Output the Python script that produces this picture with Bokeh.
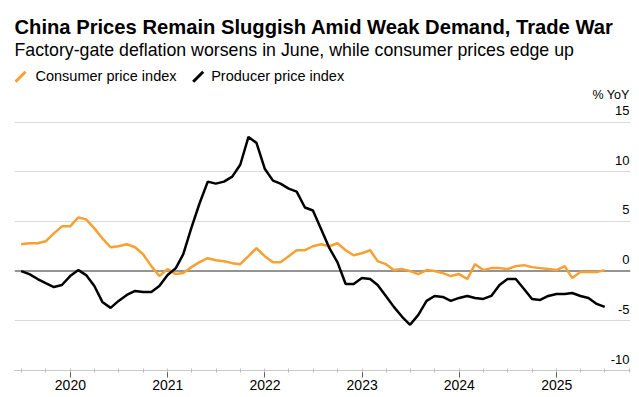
import pandas as pd
from bokeh.plotting import figure
from bokeh.models import Range1d, FixedTicker, DatetimeTickFormatter, Span, Label, Arrow
from bokeh.core.properties import value
from bokeh.embed import file_html
from bokeh.resources import INLINE

# ---- data (monthly, YoY %) ----
months = pd.date_range("2019-06-30", "2025-06-30", freq="ME")
cpi = [2.7, 2.8, 2.8, 3.0, 3.8, 4.5, 4.5,
       5.4, 5.2, 4.3, 3.3, 2.4, 2.5, 2.7, 2.4, 1.7, 0.5, -0.5, 0.2,
       -0.3, -0.2, 0.4, 0.9, 1.3, 1.1, 1.0, 0.8, 0.7, 1.5, 2.3, 1.5,
       0.9, 0.9, 1.5, 2.1, 2.1, 2.5, 2.7, 2.5, 2.8, 2.1, 1.6, 1.8,
       2.1, 1.0, 0.7, 0.1, 0.2, 0.0, -0.3, 0.1, 0.0, -0.2, -0.5, -0.3,
       -0.8, 0.7, 0.1, 0.3, 0.3, 0.2, 0.5, 0.6, 0.4, 0.3, 0.2, 0.1,
       0.5, -0.7, -0.1, -0.1, -0.1, 0.1]
ppi = [0.0, -0.3, -0.8, -1.2, -1.6, -1.4, -0.5,
       0.1, -0.4, -1.5, -3.1, -3.7, -3.0, -2.4, -2.0, -2.1, -2.1, -1.5, -0.4,
       0.3, 1.7, 4.4, 6.8, 9.0, 8.8, 9.0, 9.5, 10.7, 13.5, 12.9, 10.3,
       9.1, 8.8, 8.3, 8.0, 6.4, 6.1, 4.2, 2.3, 0.9, -1.3, -1.3, -0.7,
       -0.8, -1.4, -2.5, -3.6, -4.6, -5.4, -4.4, -3.0, -2.5, -2.6, -3.0, -2.7,
       -2.5, -2.7, -2.8, -2.5, -1.4, -0.8, -0.8, -1.8, -2.8, -2.9, -2.5, -2.3,
       -2.3, -2.2, -2.5, -2.7, -3.3, -3.6]
y_ticks = [-10, -5, 0, 5, 10, 15]
y_tick_labels = ["-10", "-5", "0", "5", "10", "15"]
years = [2020, 2021, 2022, 2023, 2024, 2025]
series_names = ["Consumer price index", "Producer price index"]

title_text = "China Prices Remain Sluggish Amid Weak Demand, Trade War"
subtitle_text = "Factory-gate deflation worsens in June, while consumer prices edge up"
unit_text = "% YoY"

# ---- style ----
FONT = "Liberation Sans"
ORANGE = "#F8A031"
BLACK = "#000000"

def ms(ts):
    return pd.Timestamp(ts).value // 10**6

x_range = Range1d(start=pd.Timestamp("2019-06-05"), end=pd.Timestamp("2025-10-05"))
y_range = Range1d(start=-10, end=-10 + 362 / 9.94)

p = figure(frame_width=616, frame_height=362, x_axis_type="datetime",
           x_range=x_range, y_range=y_range, y_axis_location=None,
           title=None, toolbar_location=None, output_backend="svg",
           min_border_left=14, min_border_right=1, min_border_top=8, min_border_bottom=27)
p.outline_line_color = None
p.background_fill_color = "white"
p.border_fill_color = "white"

# grid
p.xgrid.visible = False
p.ygrid.ticker = FixedTicker(ticks=[t for t in y_ticks if t not in (-10, 0)])
p.ygrid.grid_line_color = "#d9d9d9"
p.ygrid.grid_line_width = 1

zero = Span(location=0, dimension="width", line_color="#707070", line_width=1.5, level="underlay")
p.add_layout(zero)

# x axis
major = [ms(f"{y}-01-01") for y in years]
minor = [ms(d) for d in pd.date_range("2019-07-01", "2025-10-01", freq="QS")]
xa = p.xaxis[0]
xa.ticker = FixedTicker(ticks=major, minor_ticks=minor)
xa.formatter = DatetimeTickFormatter(years="%Y", months="%Y", days="%Y", hours="%Y",
                                     minutes="%Y", seconds="%Y", milliseconds="%Y")
xa.axis_line_color = "#c8c8c8"
xa.axis_line_width = 1
xa.major_tick_line_color = "#5a5a5a"
xa.major_tick_in = 0
xa.major_tick_out = 7
xa.minor_tick_line_color = "#bdbdbd"
xa.minor_tick_in = 2
xa.minor_tick_out = 2
xa.major_label_text_font = FONT
xa.major_label_text_font_size = "14px"
xa.major_label_text_color = "#000000"
xa.major_label_standoff = 2

# series
p.line(months, cpi, line_color=ORANGE, line_width=2.5)
p.line(months, ppi, line_color=BLACK, line_width=2.5)

# y tick labels (inside plot, right aligned above gridlines)
p.text(x=[x_range.end] * len(y_ticks), y=y_ticks, text=y_tick_labels,
       text_align="right", text_baseline="alphabetic", x_offset=-1, y_offset=-11.5,
       text_font=value(FONT), text_font_size="13px", text_color="#000000")

# header texts (screen units, relative to frame bottom-left)
FB = 370.4  # page y of frame bottom
FL = 14     # page x of frame left
def sx(px):
    return px - FL
def sy(py):
    return FB - py

p.add_layout(Label(x=sx(14), y=sy(31 - 4.5), text=title_text, x_units="screen", y_units="screen",
                   text_font=FONT, text_font_size="20.2px", text_font_style="bold",
                   text_color="#000000", text_baseline="alphabetic"))
p.add_layout(Label(x=sx(14), y=sy(56.7 - 6.5), text=subtitle_text, x_units="screen", y_units="screen",
                   text_font=FONT, text_font_size="17.75px", text_color="#000000",
                   text_baseline="alphabetic"))
p.add_layout(Label(x=sx(35), y=sy(81 - 5), text=series_names[0], x_units="screen", y_units="screen",
                   text_font=FONT, text_font_size="14.5px", text_color="#000000",
                   text_baseline="alphabetic"))
p.add_layout(Label(x=sx(210.7), y=sy(81 - 5), text=series_names[1], x_units="screen", y_units="screen",
                   text_font=FONT, text_font_size="14.5px", text_color="#000000",
                   text_baseline="alphabetic"))
p.add_layout(Label(x=sx(629), y=sy(99 - 4.5), text=unit_text, x_units="screen", y_units="screen",
                   text_font=FONT, text_font_size="12.5px", text_color="#000000",
                   text_align="right", text_baseline="alphabetic"))

for x0, col in [(15, ORANGE), (192.7, BLACK)]:
    p.add_layout(Arrow(end=None, x_start=sx(x0), y_start=sy(81.7), x_end=sx(x0 + 10), y_end=sy(71.7),
                       start_units="screen", end_units="screen",
                       line_color=col, line_width=3))

open("out.html", "w").write(file_html(p, INLINE))
